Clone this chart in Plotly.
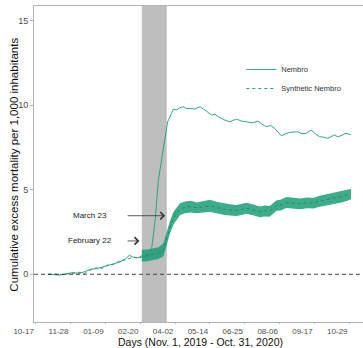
import plotly.graph_objects as go

# ---------------- data ----------------
nembro_dates = ["2019-11-01", "2019-11-08", "2019-11-15", "2019-11-22", "2019-12-01", "2019-12-08",
                "2019-12-15", "2019-12-22", "2019-12-29", "2020-01-05", "2020-01-12", "2020-01-19",
                "2020-01-26", "2020-02-02", "2020-02-07", "2020-02-12", "2020-02-17", "2020-02-22",
                "2020-02-28", "2020-03-05", "2020-03-09", "2020-03-13", "2020-03-19", "2020-03-24",
                "2020-03-31", "2020-04-04", "2020-04-08", "2020-04-12", "2020-04-16", "2020-04-20",
                "2020-04-26", "2020-05-02", "2020-05-08", "2020-05-12", "2020-05-16", "2020-05-20",
                "2020-05-24", "2020-06-01", "2020-06-07", "2020-06-15", "2020-06-21", "2020-06-27",
                "2020-07-04", "2020-07-11", "2020-07-16", "2020-07-21", "2020-07-26", "2020-07-31",
                "2020-08-08", "2020-08-13", "2020-08-18", "2020-08-28", "2020-09-02", "2020-09-07",
                "2020-09-13", "2020-09-18", "2020-09-23", "2020-09-28", "2020-10-03", "2020-10-11",
                "2020-10-15", "2020-10-19", "2020-10-25", "2020-10-29", "2020-10-31"]
nembro_vals = [0.00, -0.02, -0.05, 0.02, 0.10, 0.05,
               0.15, 0.30, 0.33, 0.42, 0.50, 0.62,
               0.72, 0.90, 1.12, 1.00, 0.98, 1.00,
               1.05, 1.60, 3.20, 5.60, 7.60, 9.00,
               9.76, 9.70, 9.85, 9.90, 9.78, 9.80,
               9.76, 9.90, 9.70, 9.55, 9.41, 9.45,
               9.31, 9.11, 9.01, 9.17, 9.05, 9.01,
               8.95, 9.05, 8.85, 8.72, 8.80, 8.62,
               8.19, 8.30, 8.38, 8.42, 8.30, 8.33,
               8.52, 8.30, 8.13, 8.10, 8.03, 8.23,
               8.12, 8.19, 8.33, 8.27, 8.25]

synth_dates = ["2019-11-01", "2019-11-08", "2019-11-15", "2019-11-22", "2019-12-01", "2019-12-08",
               "2019-12-15", "2019-12-22", "2019-12-29", "2020-01-05", "2020-01-12", "2020-01-19",
               "2020-01-26", "2020-02-02", "2020-02-07", "2020-02-12", "2020-02-17", "2020-02-22",
               "2020-02-29", "2020-03-07", "2020-03-13", "2020-03-19", "2020-03-23", "2020-03-27",
               "2020-03-31", "2020-04-04", "2020-04-08", "2020-04-14", "2020-04-21", "2020-04-28",
               "2020-05-06", "2020-05-14", "2020-05-22", "2020-05-30", "2020-06-07", "2020-06-15",
               "2020-06-21", "2020-06-27", "2020-07-05", "2020-07-13", "2020-07-19", "2020-07-25",
               "2020-08-02", "2020-08-08", "2020-08-14", "2020-08-22", "2020-08-31", "2020-09-08",
               "2020-09-16", "2020-09-22", "2020-09-28", "2020-10-05", "2020-10-13", "2020-10-21",
               "2020-10-29", "2020-10-31"]
synth_vals = [0.00, 0.02, -0.02, 0.00, 0.06, 0.12,
              0.05, 0.25, 0.38, 0.35, 0.55, 0.58,
              0.78, 0.85, 0.95, 1.02, 0.95, 1.10,
              1.12, 1.19, 1.25, 1.45, 2.20, 2.80,
              3.30, 3.60, 3.85, 3.95, 4.00, 3.92,
              3.98, 4.05, 3.95, 3.85, 3.80, 3.77,
              3.83, 3.90, 3.80, 3.69, 3.74, 3.72,
              4.05, 4.10, 4.24, 4.20, 4.16, 4.22,
              4.20, 4.30, 4.36, 4.42, 4.51, 4.58,
              4.70, 4.75]

band_dates = synth_dates[17:]
band_lo = [0.75, 0.77, 0.84, 0.90, 1.07, 1.82, 2.42, 2.92, 3.24, 3.50, 3.60, 3.65, 3.60,
           3.65, 3.70, 3.61, 3.51, 3.47, 3.44, 3.50, 3.58, 3.48, 3.37, 3.42, 3.40, 3.74,
           3.78, 3.91, 3.87, 3.84, 3.90, 3.89, 3.98, 4.04, 4.10, 4.20, 4.26, 4.39, 4.44]
band_hi = [1.45, 1.47, 1.54, 1.60, 1.83, 2.58, 3.18, 3.68, 3.96, 4.20, 4.30, 4.35, 4.24,
           4.31, 4.40, 4.29, 4.19, 4.13, 4.10, 4.16, 4.22, 4.12, 4.01, 4.06, 4.04, 4.36,
           4.42, 4.57, 4.53, 4.48, 4.54, 4.51, 4.62, 4.68, 4.74, 4.82, 4.90, 5.02, 5.06]

tick_dates = ["2019-10-17", "2019-11-28", "2020-01-09", "2020-02-20", "2020-04-02",
              "2020-05-14", "2020-06-25", "2020-08-06", "2020-09-17", "2020-10-29"]
tick_labels = ["10-17", "11-28", "01-09", "02-20", "04-02", "05-14", "06-25", "08-06", "09-17", "10-29"]

lockdown_start = "2020-02-22"
lockdown_end = "2020-03-23"

x_title = "Days (Nov. 1, 2019 - Oct. 31, 2020)"
y_title = "Cumulative excess mortality per 1,000 inhabitants"

GREEN = "#1b9e77"
FONT = "Liberation Sans, Arial, sans-serif"

fig = go.Figure()

fig.add_vrect(x0=lockdown_start, x1=lockdown_end, fillcolor="#bebebe", opacity=1,
              line_width=0, layer="below")

fig.add_hline(y=0, line=dict(color="#333333", width=0.9, dash="4px,3px"))

# band
fig.add_trace(go.Scatter(x=band_dates, y=band_lo, mode="lines", line=dict(width=0, color=GREEN),
                         showlegend=False, hoverinfo="skip"))
fig.add_trace(go.Scatter(x=band_dates, y=band_hi, mode="lines", line=dict(width=0, color=GREEN),
                         fill="tonexty", fillcolor="rgba(27,158,119,0.85)",
                         showlegend=False, hoverinfo="skip"))

fig.add_trace(go.Scatter(x=nembro_dates, y=nembro_vals, mode="lines", name="Nembro",
                         line=dict(color=GREEN, width=0.9)))
fig.add_trace(go.Scatter(x=synth_dates, y=synth_vals, mode="lines", name="Synthetic Nembro",
                         line=dict(color="#1a8a68", width=0.9, dash="3px,3px")))

# annotations
fig.add_annotation(x="2020-03-21", y=3.46, ax="2020-02-03", ay=3.46, xref="x", yref="y",
                   axref="x", ayref="y", text="", showarrow=True, arrowhead=4, arrowsize=1.8,
                   arrowwidth=0.8, arrowcolor="#333333")
fig.add_annotation(x="2019-12-21", y=3.46, text="March 23", showarrow=False,
                   font=dict(size=8, color="#222222", family=FONT))
fig.add_annotation(x="2020-02-19", y=1.97, ax="2020-02-03", ay=1.97, xref="x", yref="y",
                   axref="x", ayref="y", text="", showarrow=True, arrowhead=4, arrowsize=1.8,
                   arrowwidth=0.8, arrowcolor="#333333")
fig.add_annotation(x="2019-12-21", y=1.97, text="February 22", showarrow=False,
                   font=dict(size=8, color="#222222", family=FONT))

# axis titles
fig.add_annotation(x=0.505, y=0, xref="paper", yref="paper", yanchor="bottom", yshift=-28,
                   text=x_title, showarrow=False, font=dict(size=10.5, color="#111111", family=FONT))
fig.add_annotation(x=0, y=0.498, xref="paper", yref="paper", xanchor="center", xshift=-20,
                   text=y_title, textangle=-90, showarrow=False,
                   font=dict(size=11.5, color="#111111", family=FONT))

fig.update_layout(
    width=363, height=348,
    margin=dict(l=34, r=0, t=6, b=26),
    paper_bgcolor="white", plot_bgcolor="white",
    font=dict(family=FONT, color="#222222"),
    showlegend=True,
    legend=dict(x=0.63, y=0.845, xanchor="left", yanchor="top", bgcolor="rgba(0,0,0,0)",
                traceorder="normal",
                font=dict(size=7.5, color="#333333", family=FONT), itemwidth=30, tracegroupgap=0),
    xaxis=dict(type="date", range=["2019-10-15", "2020-11-14 12:00"],
               tickvals=tick_dates, ticktext=tick_labels, tickfont=dict(size=8, color="#4d4d4d"),
               ticks="outside", ticklen=1, tickcolor="#b3b3b3", ticklabelshift=-12,
               ticklabelstandoff=0,
               showline=True, linecolor="#b3b3b3", linewidth=1, mirror=True,
               showgrid=False, zeroline=False, automargin=False),
    yaxis=dict(range=[-2.82, 15.85], tickvals=[0, 5, 10, 15], tickfont=dict(size=9, color="#4d4d4d"),
               ticks="outside", ticklen=3, tickcolor="#b3b3b3",
               showline=True, linecolor="#b3b3b3", linewidth=1, mirror=False,
               showgrid=False, zeroline=False, automargin=False),
)

fig.write_html("out.html")
